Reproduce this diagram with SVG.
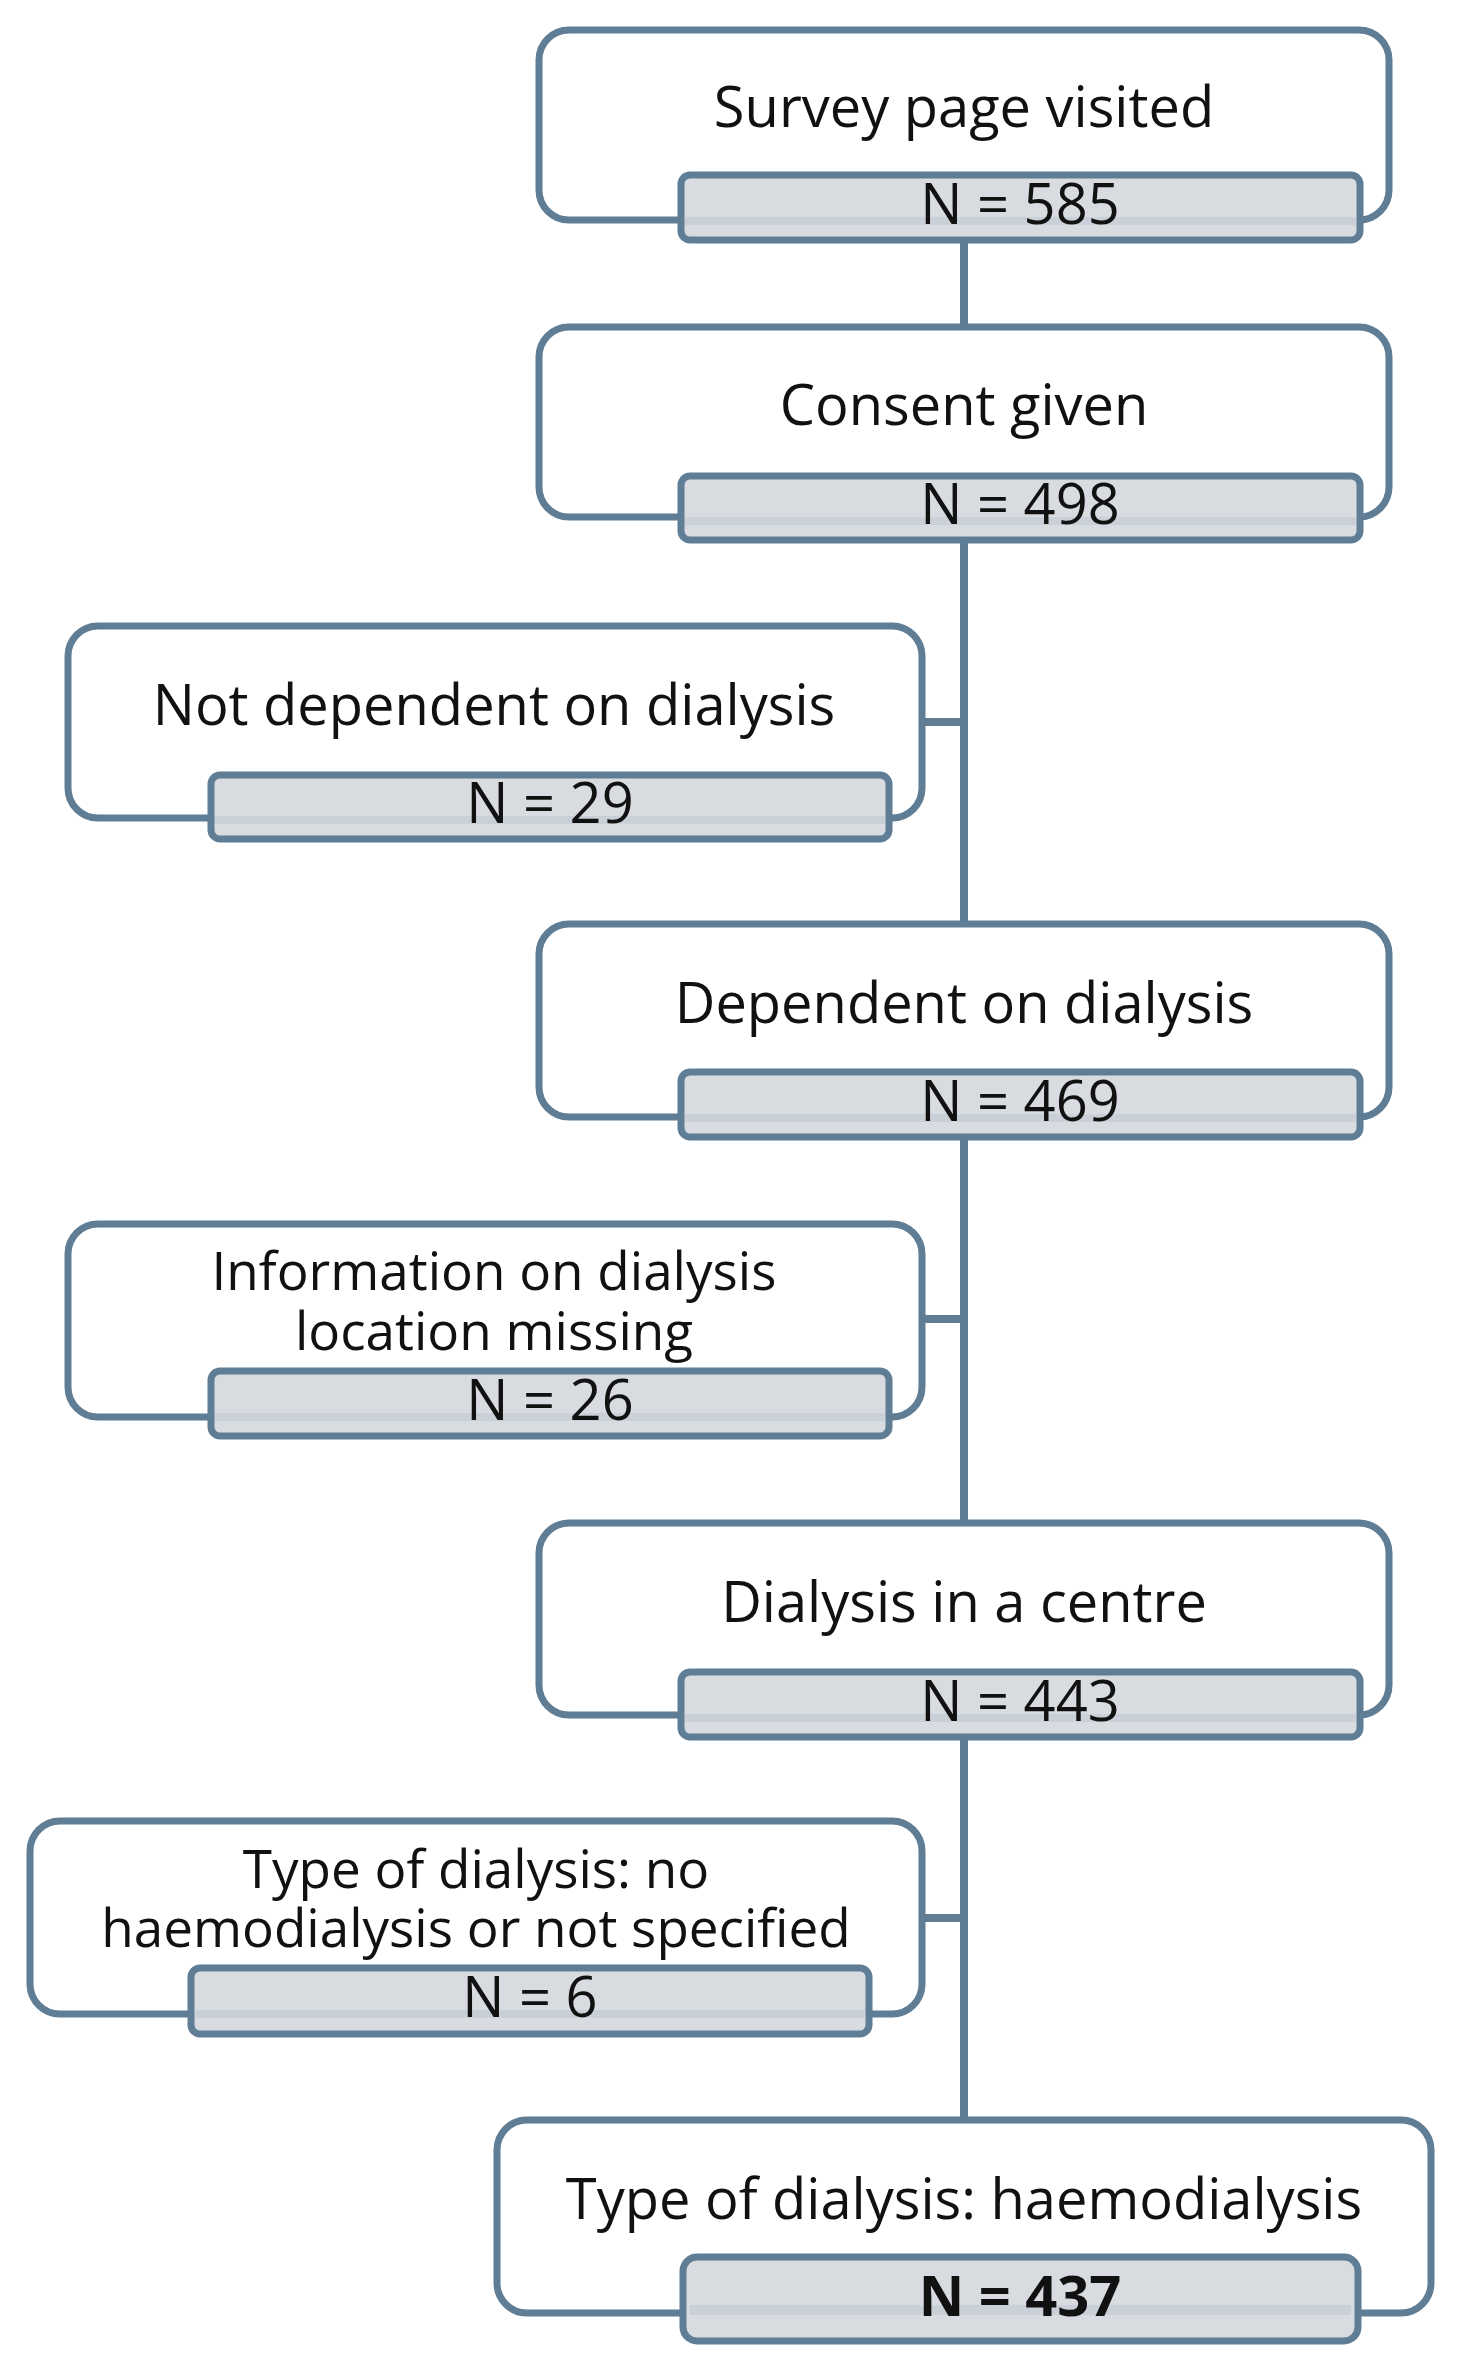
<svg xmlns="http://www.w3.org/2000/svg" width="1468" height="2372" viewBox="0 0 1468 2372">
<style>
.box{fill:#fff;stroke:#5f7d95;stroke-width:7}
.bar{fill:#d8dce1;stroke:#5f7d95;stroke-width:7}
.band{fill:#c9d0d7}
.t{font-family:"Open Sans","DejaVu Sans",sans-serif;font-size:56px;fill:#111;text-anchor:middle}
.m{font-size:53px}
.c{stroke:#5f7d95;stroke-width:8;fill:none}
</style>
<rect width="1468" height="2372" fill="#fff"/>
<g id="connectors">
<line class="c" x1="964" y1="238" x2="964" y2="2120"/>
<line class="c" x1="918" y1="722" x2="964" y2="722"/>
<line class="c" x1="918" y1="1319" x2="964" y2="1319"/>
<line class="c" x1="918" y1="1918" x2="964" y2="1918"/>
</g>
<g id="n1">
<rect class="box" x="539" y="30" width="850" height="190" rx="30"/>
<rect class="bar" x="681" y="175" width="679" height="65" rx="9"/>
<rect class="band" x="685" y="217" width="671" height="8"/>
<text class="t" x="964" y="127">Survey page visited</text>
<text class="t" x="1020" y="224">N = 585</text>
</g>
<g id="n2">
<rect class="box" x="539" y="327" width="850" height="190" rx="30"/>
<rect class="bar" x="681" y="476" width="679" height="64" rx="9"/>
<rect class="band" x="685" y="517" width="671" height="8"/>
<text class="t" x="964" y="425">Consent given</text>
<text class="t" x="1020" y="524">N = 498</text>
</g>
<g id="n3">
<rect class="box" x="68" y="626" width="854" height="192" rx="30"/>
<rect class="bar" x="211" y="775" width="678" height="64" rx="9"/>
<rect class="band" x="215" y="816" width="670" height="8"/>
<text class="t" x="494" y="725">Not dependent on dialysis</text>
<text class="t" x="550" y="823">N = 29</text>
</g>
<g id="n4">
<rect class="box" x="539" y="924" width="850" height="193" rx="30"/>
<rect class="bar" x="681" y="1072" width="679" height="65" rx="9"/>
<rect class="band" x="685" y="1114" width="671" height="8"/>
<text class="t" x="964" y="1023">Dependent on dialysis</text>
<text class="t" x="1020" y="1121">N = 469</text>
</g>
<g id="n5">
<rect class="box" x="68" y="1224" width="854" height="193" rx="30"/>
<rect class="bar" x="211" y="1371" width="678" height="65" rx="9"/>
<rect class="band" x="215" y="1413" width="670" height="8"/>
<text class="t m" x="494" y="1290">Information on dialysis</text>
<text class="t m" x="494" y="1350">location missing</text>
<text class="t" x="550" y="1420">N = 26</text>
</g>
<g id="n6">
<rect class="box" x="539" y="1523" width="850" height="192" rx="30"/>
<rect class="bar" x="681" y="1672" width="679" height="65" rx="9"/>
<rect class="band" x="685" y="1714" width="671" height="8"/>
<text class="t" x="964" y="1622">Dialysis in a centre</text>
<text class="t" x="1020" y="1721">N = 443</text>
</g>
<g id="n7">
<rect class="box" x="30" y="1821" width="892" height="193" rx="30"/>
<rect class="bar" x="191" y="1968" width="678" height="66" rx="9"/>
<rect class="band" x="195" y="2010" width="670" height="8"/>
<text class="t m" x="476" y="1888">Type of dialysis: no</text>
<text class="t m" x="476" y="1947">haemodialysis or not specified</text>
<text class="t" x="530" y="2017">N = 6</text>
</g>
<g id="n8">
<rect class="box" x="497" y="2120" width="934" height="193" rx="30"/>
<rect class="bar" x="683" y="2257" width="675" height="84" rx="14" stroke-width="14"/>
<rect class="band" x="690" y="2305" width="661" height="10"/>
<text class="t" x="964" y="2219">Type of dialysis: haemodialysis</text>
<text class="t" x="1020" y="2316" font-weight="bold">N = 437</text>
</g>
</svg>
